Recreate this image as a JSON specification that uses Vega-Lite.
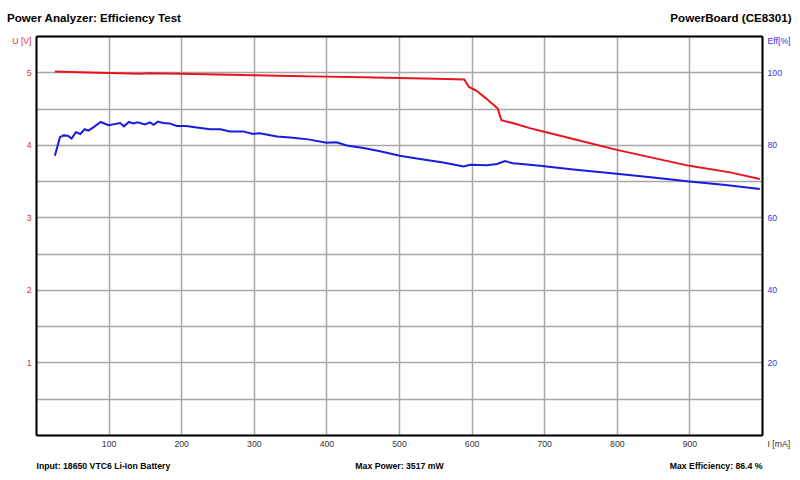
{
  "$schema": "https://vega.github.io/schema/vega-lite/v6.json",
  "width": 726,
  "height": 399,
  "autosize": {"type": "none"},
  "padding": {"left": 36, "top": 36, "right": 38, "bottom": 45},
  "background": "white",
  "config": {"font": "Liberation Sans", "view": {"stroke": null}},
  "title": {
    "text": "Power Analyzer: Efficiency Test",
    "anchor": "start",
    "frame": "group",
    "fontSize": 11.6,
    "fontWeight": "bold",
    "color": "black",
    "baseline": "alphabetic",
    "dx": -29,
    "offset": -22
  },
  "datasets": {
    "voltage": [
      {"I": 26, "U": 5.01}, {"I": 60, "U": 5.0}, {"I": 100, "U": 4.99}, {"I": 144, "U": 4.98},
      {"I": 155, "U": 4.985}, {"I": 200, "U": 4.98}, {"I": 250, "U": 4.97}, {"I": 300, "U": 4.96},
      {"I": 350, "U": 4.95}, {"I": 400, "U": 4.94}, {"I": 450, "U": 4.93}, {"I": 500, "U": 4.92},
      {"I": 550, "U": 4.91}, {"I": 590, "U": 4.9}, {"I": 596, "U": 4.8}, {"I": 600, "U": 4.78},
      {"I": 607, "U": 4.745}, {"I": 621, "U": 4.63}, {"I": 636, "U": 4.5}, {"I": 641, "U": 4.34},
      {"I": 660, "U": 4.29}, {"I": 680, "U": 4.23}, {"I": 700, "U": 4.18}, {"I": 740, "U": 4.08},
      {"I": 800, "U": 3.93}, {"I": 850, "U": 3.82}, {"I": 900, "U": 3.71}, {"I": 956, "U": 3.62},
      {"I": 997, "U": 3.53}
    ],
    "efficiency": [
      {"I": 26, "Eff": 77.0}, {"I": 33, "Eff": 82.1}, {"I": 38, "Eff": 82.6}, {"I": 44, "Eff": 82.5},
      {"I": 49, "Eff": 81.7}, {"I": 55, "Eff": 83.5}, {"I": 61, "Eff": 83.0}, {"I": 67, "Eff": 84.3},
      {"I": 72, "Eff": 83.9}, {"I": 79, "Eff": 84.8}, {"I": 89, "Eff": 86.3}, {"I": 100, "Eff": 85.4},
      {"I": 116, "Eff": 86.0}, {"I": 121, "Eff": 85.1}, {"I": 128, "Eff": 86.3}, {"I": 134, "Eff": 85.9},
      {"I": 140, "Eff": 86.2}, {"I": 150, "Eff": 85.6}, {"I": 157, "Eff": 86.2}, {"I": 162, "Eff": 85.5},
      {"I": 168, "Eff": 86.4}, {"I": 175, "Eff": 86.0}, {"I": 184, "Eff": 85.9}, {"I": 194, "Eff": 85.2},
      {"I": 207, "Eff": 85.2}, {"I": 221, "Eff": 84.8}, {"I": 240, "Eff": 84.3}, {"I": 254, "Eff": 84.3},
      {"I": 267, "Eff": 83.7}, {"I": 285, "Eff": 83.7}, {"I": 299, "Eff": 83.0}, {"I": 308, "Eff": 83.2},
      {"I": 332, "Eff": 82.3}, {"I": 350, "Eff": 82.0}, {"I": 375, "Eff": 81.5}, {"I": 400, "Eff": 80.6},
      {"I": 414, "Eff": 80.7}, {"I": 428, "Eff": 79.8}, {"I": 451, "Eff": 79.1}, {"I": 474, "Eff": 78.2},
      {"I": 501, "Eff": 77.0}, {"I": 529, "Eff": 76.1}, {"I": 561, "Eff": 75.1}, {"I": 589, "Eff": 74.0},
      {"I": 598, "Eff": 74.5}, {"I": 621, "Eff": 74.4}, {"I": 635, "Eff": 74.7}, {"I": 646, "Eff": 75.5},
      {"I": 657, "Eff": 74.9}, {"I": 680, "Eff": 74.5}, {"I": 694, "Eff": 74.2}, {"I": 740, "Eff": 73.2},
      {"I": 800, "Eff": 72.0}, {"I": 850, "Eff": 71.0}, {"I": 900, "Eff": 69.9}, {"I": 950, "Eff": 68.9},
      {"I": 997, "Eff": 67.8}
    ]
  },
  "layer": [
    {
      "data": {"name": "voltage"},
      "mark": {"type": "line", "color": "#e8141c", "strokeWidth": 2},
      "encoding": {
        "x": {
          "field": "I", "type": "quantitative",
          "scale": {"domain": [0, 1000], "nice": false, "zero": true},
          "axis": {
            "orient": "bottom",
            "values": [0, 100, 200, 300, 400, 500, 600, 700, 800, 900, 1000],
            "labelExpr": "datum.value == 1000 ? 'I  [mA]' : (datum.value == 0 ? '' : datum.label)",
            "labelAlign": {"condition": {"test": "datum.value == 1000", "value": "left"}, "value": "center"},
            "labelOffset": {"condition": {"test": "datum.value == 1000", "value": 5}, "value": 0},
            "labelFlush": false,
            "labelOverlap": false,
            "labelFontSize": 8.7,
            "labelColor": "#333333",
            "labelPadding": 4,
            "ticks": false,
            "tickSize": 0,
            "grid": true,
            "gridColor": "#a6a6a6",
            "gridWidth": 1.5,
            "domainColor": "black",
            "domainWidth": 2,
            "title": "Max Power: 3517 mW",
            "titleX": 363,
            "titleY": 33,
            "titleAlign": "center",
            "titleBaseline": "alphabetic",
            "titleFontSize": 8.7,
            "titleFontWeight": "bold",
            "titleColor": "black"
          }
        },
        "y": {
          "field": "U", "type": "quantitative",
          "scale": {"domain": [0, 5.5], "nice": false, "zero": true},
          "axis": {
            "orient": "left",
            "values": [0, 0.5, 1, 1.5, 2, 2.5, 3, 3.5, 4, 4.5, 5, 5.5],
            "format": "~g",
            "labelExpr": "datum.value == 5.5 ? 'U [V]' : ((datum.value % 1 == 0 && datum.value > 0) ? datum.label : '')",
            "labelBaseline": {"condition": {"test": "datum.value == 5.5", "value": "top"}, "value": "middle"},
            "labelOverlap": false,
            "labelFontSize": 8.7,
            "labelColor": "#e03030",
            "labelPadding": 5,
            "ticks": false,
            "tickSize": 0,
            "grid": true,
            "gridColor": "#a6a6a6",
            "gridWidth": 1.5,
            "domainColor": "black",
            "domainWidth": 2,
            "title": "Input: 18650 VTC6 Li-Ion Battery",
            "titleAngle": 0,
            "titleX": 0,
            "titleY": 432,
            "titleAlign": "left",
            "titleBaseline": "alphabetic",
            "titleFontSize": 8.7,
            "titleFontWeight": "bold",
            "titleColor": "black"
          }
        }
      }
    },
    {
      "data": {"name": "efficiency"},
      "mark": {"type": "line", "color": "#1a1ae0", "strokeWidth": 2},
      "encoding": {
        "x": {
          "field": "I", "type": "quantitative",
          "axis": {
            "orient": "top",
            "labels": false,
            "ticks": false,
            "tickSize": 0,
            "grid": false,
            "domainColor": "black",
            "domainWidth": 2,
            "title": "PowerBoard (CE8301)",
            "titleX": 755,
            "titleY": -15,
            "titleAlign": "right",
            "titleBaseline": "alphabetic",
            "titleFontSize": 11.6,
            "titleFontWeight": "bold",
            "titleColor": "black"
          }
        },
        "y": {
          "field": "Eff", "type": "quantitative",
          "scale": {"domain": [0, 110], "nice": false, "zero": true},
          "axis": {
            "orient": "right",
            "values": [0, 20, 40, 60, 80, 100, 110],
            "labelExpr": "datum.value == 110 ? 'Eff[%]' : (datum.value > 0 ? datum.label : '')",
            "labelBaseline": {"condition": {"test": "datum.value == 110", "value": "top"}, "value": "middle"},
            "labelOverlap": false,
            "labelFontSize": 8.7,
            "labelColor": "#3535e0",
            "labelPadding": 5,
            "ticks": false,
            "tickSize": 0,
            "grid": false,
            "domainColor": "black",
            "domainWidth": 2,
            "title": "Max Efficiency: 86.4 %",
            "titleAngle": 0,
            "titleX": 0,
            "titleY": 432,
            "titleAlign": "right",
            "titleBaseline": "alphabetic",
            "titleFontSize": 8.7,
            "titleFontWeight": "bold",
            "titleColor": "black"
          }
        }
      }
    }
  ],
  "resolve": {"scale": {"y": "independent"}, "axis": {"x": "independent", "y": "independent"}}
}
